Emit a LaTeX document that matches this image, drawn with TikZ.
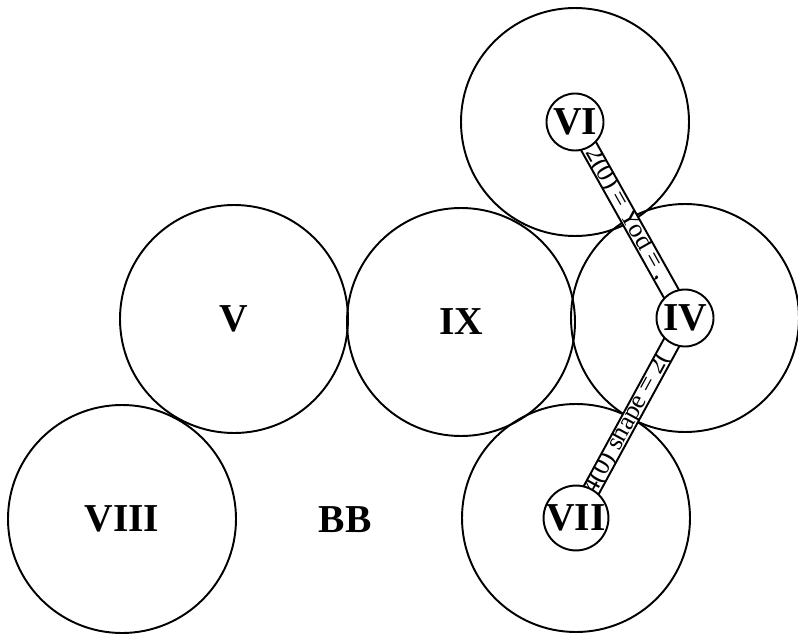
\documentclass[tikz,border=0pt]{standalone}
\usepackage{fontspec}
\setmainfont{Liberation Serif}
\usetikzlibrary{positioning, calc, backgrounds}

\pgfdeclarelayer{bands}
\pgfsetlayers{background,bands,main}

\begin{document}
\begin{tikzpicture}[
                  ring/.style={draw, circle, line width=1.1pt, minimum size=4.56cm, inner sep=0pt,
                              font=\fontsize{22.5}{24}\selectfont\bfseries},
                  hub/.style={draw, circle, line width=1.1pt, fill=white, minimum size=1.14cm,
                              inner sep=0pt, font=\fontsize{22.5}{24}\selectfont\bfseries},
                  lab/.style={font=\fontsize{22.5}{24}\selectfont\bfseries},
                  bandline/.style={line width=1.1pt},
                  btxt/.style={sloped, anchor=west, inner sep=0pt,
                              font=\fontsize{14.8}{16}\selectfont},
            ]
            \useasboundingbox (0,0) rectangle (15.96,12.66);

            % ---- large rings ----
            \begin{scope}[on background layer]
                  \node[ring] (V)    at (4.68, 6.28)  {V};
                  \node[ring] (IX)   at (9.22, 6.22)  {IX};
                  \node[ring] (VIII) at (2.44, 2.28)  {VIII};
                  \node[ring] (rVI)  at (11.50, 10.22) {};
                  \node[ring] (rIV)  at (13.70, 6.30)  {};
                  \node[ring] (rVII) at (11.52, 2.30)  {};
            \end{scope}
            \node[lab] (BB) at (6.90, 2.26) {BB};

            % ---- hubs ----
            \node[hub] (VI)  at (rVI)  {VI};
            \node[hub] (IV)  at (rIV)  {IV};
            \node[hub] (VII) at (rVII) {VII};

            % ---- bands between hubs ----
            \begin{pgfonlayer}{bands}
                  \foreach \src/\dst/\p/\txt in {
                              VI/IV/0.14/{2(0) = Yod = ,},
                              VII/IV/0.125/{4(0) shape = 2(}}{
                        \coordinate (s1) at ($(\src.center)!0.17cm!90:(\dst.center)$);
                        \coordinate (s2) at ($(\src.center)!0.17cm!-90:(\dst.center)$);
                        \coordinate (d1) at ($(\dst.center)!0.17cm!90:(\src.center)$);
                        \coordinate (d2) at ($(\dst.center)!0.17cm!-90:(\src.center)$);
                        \begin{scope}
                              \clip (s1) -- (s2) -- (d1) -- (d2) -- cycle;
                              \fill[white] (s1) -- (s2) -- (d1) -- (d2) -- cycle;
                              \path (\src.center) -- (\dst.center)
                              node[btxt, pos=\p] (t\src) {\txt};
                        \end{scope}
                        \draw[bandline] (s1) -- (d2);
                        \draw[bandline] (s2) -- (d1);
                  }
            \end{pgfonlayer}

      \end{tikzpicture}
\end{document}
